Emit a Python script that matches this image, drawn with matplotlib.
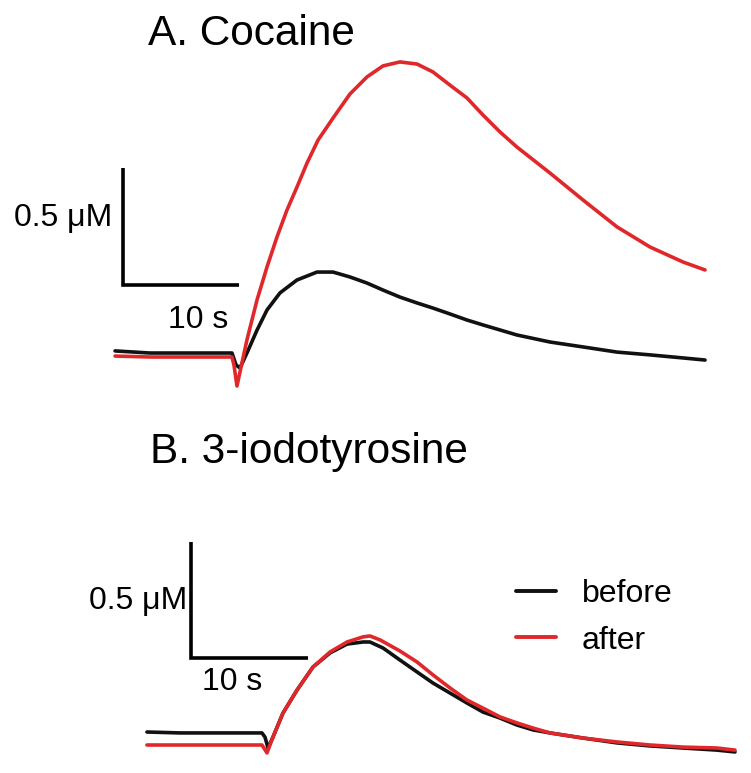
import matplotlib
matplotlib.use("Agg")
import matplotlib.pyplot as plt

plt.rcParams['font.family'] = ['Liberation Sans', 'DejaVu Sans']

# ---------------- data (time in s, concentration in uM) ----------------
# Panel A: Cocaine
tA_after = [-10.34, -7.33, -3.02, -0.26, -0.09, 0.17, 0.43, 1.03, 1.90, 2.76, 3.62, 4.48,
            5.34, 6.21, 7.16, 8.45, 9.91, 11.38, 12.76, 14.22, 15.69, 17.07, 18.53, 20.0,
            21.38, 22.84, 24.31, 27.16, 30.0, 32.93, 35.78, 38.62, 40.52]
cA_after = [0.004, 0.0, 0.0, 0.0, -0.034, -0.124, -0.064, 0.073, 0.244, 0.385, 0.513, 0.628,
            0.726, 0.829, 0.927, 1.021, 1.124, 1.197, 1.244, 1.261, 1.252, 1.218, 1.162, 1.107,
            1.034, 0.962, 0.897, 0.786, 0.671, 0.556, 0.470, 0.406, 0.372]
tA_before = [-10.34, -7.33, -3.02, -0.26, 0.09, 0.43, 1.03, 1.90, 2.76, 3.88, 5.34, 7.07,
             8.45, 9.91, 11.38, 12.76, 14.22, 15.69, 17.07, 18.53, 20.0, 21.38, 24.31, 27.16,
             30.0, 32.93, 35.78, 38.62, 40.52]
cA_before = [0.026, 0.017, 0.017, 0.017, -0.034, -0.047, 0.017, 0.115, 0.201, 0.274, 0.329, 0.363,
             0.363, 0.342, 0.316, 0.286, 0.256, 0.231, 0.209, 0.184, 0.158, 0.137, 0.094, 0.064,
             0.043, 0.021, 0.009, -0.004, -0.013]

# Panel B: 3-iodotyrosine
tB_after = [-10.09, -7.26, -3.85, -0.26, 0.17, 0.68, 1.54, 2.74, 4.10, 5.56, 7.01, 8.38, 8.97,
            9.83, 11.54, 12.99, 14.36, 15.81, 17.26, 18.63, 20.09, 21.54, 22.91, 24.36, 27.18,
            30.09, 32.91, 35.73, 38.63, 40.17]
cB_after = [0.0, 0.0, 0.0, 0.0, -0.034, 0.034, 0.138, 0.237, 0.336, 0.401, 0.444, 0.466, 0.470,
            0.453, 0.405, 0.358, 0.302, 0.246, 0.194, 0.159, 0.121, 0.095, 0.073, 0.052, 0.030,
            0.013, 0.0, -0.009, -0.013, -0.022]
tB_before = [-10.09, -7.26, -3.85, -0.26, 0.0, 0.26, 0.68, 1.54, 2.74, 4.10, 5.56, 7.01, 8.38,
             8.97, 10.09, 11.54, 12.99, 14.36, 15.81, 17.26, 18.63, 20.09, 21.54, 22.91, 24.36,
             27.18, 30.09, 32.91, 35.73, 38.63, 40.17]
cB_before = [0.056, 0.052, 0.052, 0.052, 0.034, -0.013, 0.034, 0.138, 0.237, 0.336, 0.397, 0.435,
             0.444, 0.444, 0.418, 0.366, 0.315, 0.267, 0.224, 0.181, 0.142, 0.116, 0.086, 0.065,
             0.052, 0.030, 0.009, -0.004, -0.013, -0.022, -0.030]

titles = ["A. Cocaine", "B. 3-iodotyrosine"]
labels = ["before", "after"]
colors = ["#111111", "#e0282b"]
scale_y_text = "0.5 \u03bcM"
scale_x_text = "10 s"
scale_y_val = 0.5
scale_x_val = 10

# ---------------- layout ----------------
W, H = 751, 773
fig = plt.figure(figsize=(W / 100, H / 100), dpi=100)

def make_axes(px_top, px_bot, x0px, pps_x, y0px, pps_y):
    ax = fig.add_axes([0, 1 - px_bot / H, 1, (px_bot - px_top) / H])
    ax.set_xlim((0 - x0px) / pps_x, (W - x0px) / pps_x)
    ax.set_ylim((y0px - px_bot) / pps_y, (y0px - px_top) / pps_y)
    ax.axis("off")
    return ax

axA = make_axes(0, 400, 235, 11.6, 357, 234)
axB = make_axes(405, 773, 265, 11.7, 745, 232)

lw = 2.6
kw = dict(lw=lw, solid_joinstyle='round', solid_capstyle='round')
axA.plot(tA_before, cA_before, color=colors[0], **kw)
axA.plot(tA_after, cA_after, color=colors[1], **kw)
lb, = axB.plot(tB_before, cB_before, color=colors[0], **kw)
la, = axB.plot(tB_after, cB_after, color=colors[1], **kw)

def scale_bar(ax, x0, y0, ytext_pos, xtext_pos):
    ax.plot([x0, x0, x0 + scale_x_val], [y0 + scale_y_val, y0, y0], color="black",
            lw=2.6, solid_joinstyle='miter', solid_capstyle='butt')
    ax.text(*ytext_pos, scale_y_text, ha="right", va="center", fontsize=23)
    ax.text(*xtext_pos, scale_x_text, ha="center", va="center", fontsize=23)

scale_bar(axA, -9.655, 0.308, (-10.6, 0.594), (-3.19, 0.16))
scale_bar(axB, -6.32, 0.375, (-6.67, 0.621), (-2.82, 0.27))

fig.text(148 / W, 1 - 45 / H, titles[0], fontsize=30.5, ha="left", va="baseline")
fig.text(150 / W, 1 - 463 / H, titles[1], fontsize=30.5, ha="left", va="baseline")

leg = axB.legend([lb, la], labels, loc="upper left", frameon=False, fontsize=23,
                 handlelength=1.25, handletextpad=0.8, labelspacing=0.52,
                 bbox_to_anchor=(516 / W, (773 - 579) / 368), borderpad=0, borderaxespad=0)
for h in leg.get_lines():
    h.set_linewidth(2.8)

fig.savefig("out.png", dpi=100)
